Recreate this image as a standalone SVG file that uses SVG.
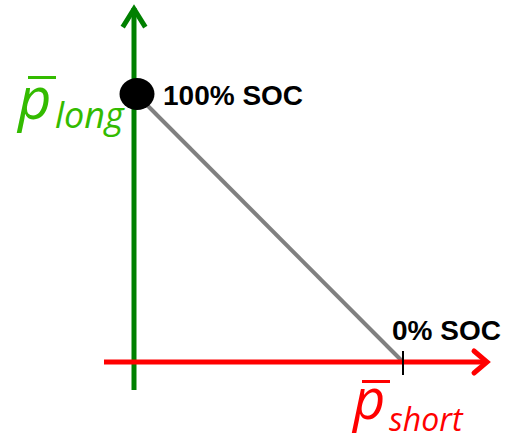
<svg xmlns="http://www.w3.org/2000/svg" width="532" height="442" viewBox="0 0 532 442">
<style>
.lbl{font-family:"Liberation Sans",Arial,sans-serif;font-weight:bold;font-size:28px;fill:#000}
.var{font-family:"Open Sans","Liberation Sans",sans-serif;font-style:italic}
</style>
<rect width="532" height="442" fill="#fff"/>
<g id="connectors">
<line x1="137" y1="95" x2="403" y2="362" stroke="#808080" stroke-width="4"/>
<g id="y-axis" stroke="#008000" stroke-width="5" fill="none">
<line x1="134" y1="390" x2="134" y2="8"/>
<polyline points="124,25 134,9 144,25" stroke-linecap="square"/>
</g>
<g id="x-axis" stroke="#ff0000" stroke-width="5" fill="none">
<line x1="104" y1="362" x2="486" y2="362"/>
<polyline points="474,351 487,362 474,373" stroke-linecap="round"/>
</g>
<line x1="403" y1="351" x2="403" y2="375" stroke="#000" stroke-width="2"/>
</g>
<g id="full">
<ellipse cx="137" cy="94" rx="17.5" ry="16" fill="#000"/>
<text class="lbl" x="163" y="105">100% SOC</text>
</g>
<g id="empty">
<text class="lbl" x="392" y="340">0% SOC</text>
</g>
<g id="plong" fill="#33bb00">
<rect x="28" y="76" width="28" height="3"/>
<text class="var" x="18" y="119" font-size="58">p</text>
<text class="var" x="55" y="128" font-size="36">long</text>
</g>
<g id="pshort" fill="#ff0000">
<rect x="362" y="380" width="28" height="3"/>
<text class="var" x="353" y="419" font-size="56">p</text>
<text class="var" x="389" y="431" font-size="32">short</text>
</g>
</svg>
